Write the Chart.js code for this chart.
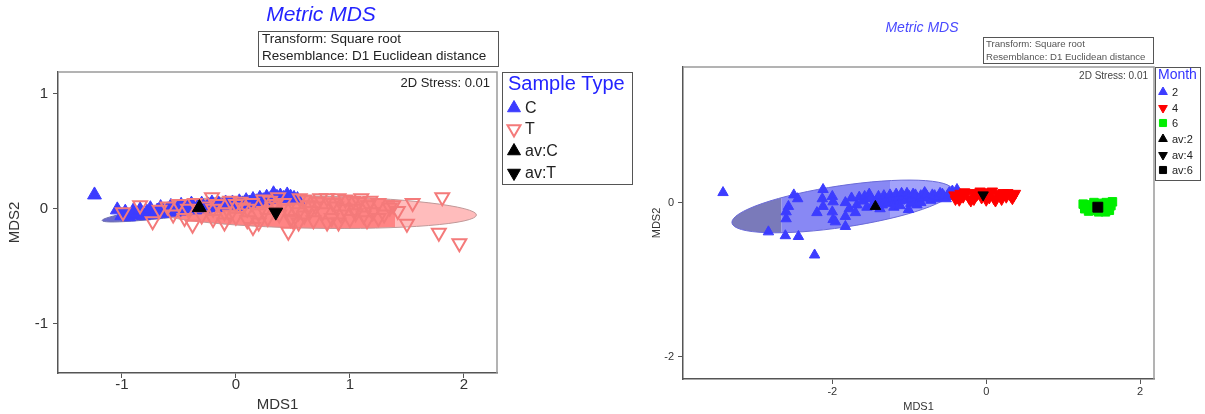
<!DOCTYPE html>
<html>
<head>
<meta charset="utf-8">
<script src="https://cdn.jsdelivr.net/npm/chart.js@4.4.1/dist/chart.umd.min.js"></script>
<style>
    body { margin: 0; background: #fff; width: 1205px; height: 414px; overflow: hidden; position: relative; }
    .panel { position: absolute; top: 0; height: 414px; }
</style>
</head>
<body>
<div class="panel" style="left:0;width:640px"><canvas id="sampleTypeChart"></canvas></div>
<div class="panel" style="left:640px;width:565px"><canvas id="monthChart"></canvas></div>
<script>
// ---------- left plot: Sample Type ----------
const sampleC = [
    [-1.24, 0.12], [-1.04, -0.01], [-1.0, -0.06], [-0.97, -0.03], [-0.94, -0.07], [-0.9, -0.02],
    [-0.87, -0.05], [-0.84, -0.01], [-0.81, -0.06], [-0.78, -0.03], [-0.75, 0.0], [-0.72, -0.05],
    [-0.69, -0.02], [-0.66, 0.01], [-0.63, -0.04], [-0.6, -0.01], [-0.57, 0.02], [-0.54, -0.03],
    [-0.51, 0.0], [-0.48, 0.03], [-0.45, -0.02], [-0.42, 0.01], [-0.39, 0.04], [-0.36, -0.01],
    [-0.33, 0.02], [-0.3, 0.04], [-0.27, 0.0], [-0.24, 0.03], [-0.21, 0.05], [-0.18, 0.01],
    [-0.15, 0.04], [-0.12, 0.02], [-0.09, 0.05], [-0.06, 0.03], [-0.03, 0.05], [0.0, 0.02],
    [0.03, 0.06], [0.06, 0.04], [0.09, 0.07], [0.12, 0.05], [0.15, 0.08], [0.18, 0.06],
    [0.21, 0.09], [0.24, 0.07], [0.27, 0.1], [0.3, 0.08], [0.33, 0.13], [0.36, 0.1],
    [0.39, 0.11], [0.42, 0.09], [0.45, 0.12], [0.48, 0.1], [0.51, 0.09], [0.54, 0.08]
];
const sampleT = [
    [-0.99, -0.03], [-0.84, 0.03], [-0.73, -0.11], [-0.67, -0.01], [-0.6, 0.02], [-0.55, -0.05],
    [-0.5, 0.04], [-0.45, -0.08], [-0.42, 0.0], [-0.38, -0.14], [-0.36, 0.05], [-0.3, -0.06],
    [-0.26, 0.02], [-0.21, 0.10], [-0.2, -0.09], [-0.2, 0.0], [-0.16, 0.04], [-0.1, -0.03],
    [-0.1, -0.12], [-0.05, 0.07], [-0.05, -0.05], [0.0, -0.07], [0.0, 0.04], [0.04, 0.06],
    [0.06, 0.01], [0.1, -0.1], [0.1, 0.0], [0.14, 0.05], [0.15, -0.16], [0.2, -0.04],
    [0.2, -0.12], [0.24, 0.08], [0.25, -0.02], [0.28, -0.08], [0.3, 0.07], [0.32, 0.02],
    [0.35, 0.04], [0.37, 0.10], [0.38, -0.05], [0.42, 0.05], [0.45, 0.0], [0.46, -0.2],
    [0.48, -0.09], [0.5, -0.1], [0.52, 0.01], [0.55, -0.12], [0.55, -0.03], [0.56, 0.09],
    [0.6, -0.06], [0.6, 0.08], [0.64, 0.03], [0.65, -0.02], [0.68, -0.1], [0.7, 0.02],
    [0.72, 0.06], [0.74, 0.09], [0.76, -0.03], [0.8, -0.12], [0.8, 0.09], [0.84, -0.08],
    [0.85, 0.05], [0.88, 0.02], [0.9, 0.09], [0.9, -0.12], [0.92, -0.05], [0.95, 0.0],
    [0.96, 0.08], [1.0, -0.09], [1.03, 0.07], [1.04, 0.0], [1.05, -0.04], [1.08, 0.06],
    [1.1, 0.09], [1.12, -0.06], [1.15, -0.1], [1.16, 0.03], [1.18, 0.07], [1.2, -0.03],
    [1.25, 0.05], [1.25, -0.08], [1.3, -0.05], [1.35, 0.01], [1.38, 0.03], [1.42, -0.02],
    [1.5, -0.13], [1.55, 0.05], [1.78, -0.21], [1.81, 0.10], [1.96, -0.30]
];
const avC = [[-0.32, 0.01]];
const avT = [[0.35, -0.03]];
const leftXTicks = [-1, 0, 1, 2];
const leftYTicks = [-1, 0, 1];
// ellipse = [centre x, centre y, semi-major, semi-minor, angle in degrees]
const ellipseC = [-0.31, 0.01, 0.87, 0.055, 7.5];
const ellipseT = [0.68, -0.03, 1.43, 0.14, -1];

// ---------- right plot: Month ----------
const month2 = [
    [-3.42, 0.13], [-2.5, 0.1], [-2.45, 0.05], [-2.12, 0.17], [-2.57, -0.05], [-2.6, -0.12],
    [-2.6, -0.21], [-2.83, -0.38], [-2.61, -0.43], [-2.44, -0.44], [-2.23, -0.68], [-2.13, 0.05],
    [-2.12, -0.05], [-2.2, -0.13], [-2.0, 0.08], [-1.99, 0.01], [-2.0, -0.12], [-1.99, -0.22],
    [-1.96, -0.25], [-1.83, 0.0], [-1.83, -0.18], [-1.83, -0.31], [-1.78, -0.08], [-1.75, 0.06],
    [-1.68, -0.03], [-1.7, -0.13], [-1.65, 0.07], [-1.6, 0.02], [-1.58, 0.08], [-1.55, -0.06],
    [-1.52, 0.11], [-1.5, 0.05], [-1.47, -0.02], [-1.45, 0.0], [-1.42, 0.03], [-1.4, 0.08],
    [-1.38, -0.08], [-1.35, -0.03], [-1.33, 0.09], [-1.3, 0.04], [-1.28, -0.01], [-1.25, 0.1],
    [-1.22, 0.05], [-1.2, 0.0], [-1.2, -0.06], [-1.17, 0.11], [-1.15, 0.06], [-1.12, 0.02],
    [-1.12, -0.04], [-1.1, 0.12], [-1.08, 0.07], [-1.05, 0.03], [-1.03, 0.12], [-1.01, -0.09],
    [-1.0, 0.08], [-0.98, -0.01], [-0.97, 0.05], [-0.95, 0.11], [-0.92, 0.1], [-0.9, 0.04],
    [-0.9, -0.03], [-0.87, 0.02], [-0.85, 0.09], [-0.85, 0.0], [-0.82, 0.06], [-0.8, 0.13],
    [-0.78, 0.1], [-0.75, 0.06], [-0.72, 0.03], [-0.7, 0.1], [-0.67, 0.09], [-0.65, 0.05],
    [-0.62, 0.07], [-0.6, 0.12], [-0.57, 0.11], [-0.55, 0.08], [-0.52, 0.05], [-0.5, 0.1],
    [-0.48, 0.13], [-0.44, 0.15], [-0.42, 0.08], [-0.38, 0.17]
];
const month4 = [
    [-0.42, 0.1], [-0.4, 0.04], [-0.38, 0.06], [-0.35, 0.03], [-0.34, 0.12], [-0.3, 0.07],
    [-0.3, 0.1], [-0.28, 0.14], [-0.26, 0.11], [-0.22, 0.05], [-0.2, 0.02], [-0.18, 0.13],
    [-0.16, 0.04], [-0.14, 0.08], [-0.12, 0.1], [-0.1, 0.12], [-0.08, 0.15], [-0.06, 0.06],
    [-0.02, 0.14], [0.0, 0.03], [0.02, 0.09], [0.04, 0.06], [0.06, 0.13], [0.08, 0.15],
    [0.1, 0.05], [0.12, 0.02], [0.14, 0.12], [0.16, 0.1], [0.18, 0.08], [0.2, 0.04],
    [0.22, 0.13], [0.26, 0.07], [0.28, 0.13], [0.3, 0.11], [0.32, 0.08], [0.34, 0.05],
    [0.36, 0.09], [0.38, 0.12]
];
const month6 = [
    [1.26, -0.02], [1.28, -0.08], [1.3, -0.05], [1.33, -0.11], [1.36, -0.03], [1.4, 0.0],
    [1.4, -0.07], [1.43, -0.1], [1.46, -0.12], [1.5, -0.01], [1.53, -0.08], [1.55, -0.12],
    [1.56, 0.0], [1.6, -0.1], [1.62, -0.04], [1.64, 0.01]
];
const av2 = [[-1.44, -0.05]];
const av4 = [[-0.04, 0.10]];
const av6 = [[1.45, -0.06]];
const rightXTicks = [-2, 0, 2];
const rightYTicks = [-2, 0];
const ellipse2 = [-1.87, -0.05, 1.45, 0.27, 8.5];

const FONT = '"Liberation Sans", Arial, sans-serif';
const toPoints = (rows) => rows.map(([x, y]) => ({x: x, y: y}));

/** Draws confidence ellipses (in data units) just before a given dataset */
const ellipsePlugin = {
    id: 'ellipses',
    beforeDatasetDraw(chart, args, opts) {
        (opts.items || []).forEach(item => {
            if (item.before !== args.index) return;
            const xs = chart.scales.x, ys = chart.scales.y, area = chart.chartArea;
            const [cx, cy, a, b, ang] = item.shape;
            const px = xs.getPixelForValue(cx), py = ys.getPixelForValue(cy);
            const rx = Math.abs(xs.getPixelForValue(cx + a) - px);
            const ry = Math.abs(ys.getPixelForValue(cy + b) - py);
            const ctx = chart.ctx;
            ctx.save();
            ctx.beginPath();
            ctx.rect(area.left, area.top, area.width, area.height);
            ctx.clip();
            ctx.beginPath();
            ctx.ellipse(px, py, rx, ry, -ang * Math.PI / 180, 0, Math.PI * 2);
            item.bands.forEach(band => {
                ctx.save();
                ctx.clip();
                const x0 = xs.getPixelForValue(band.from), x1 = xs.getPixelForValue(band.to);
                ctx.fillStyle = band.fill;
                ctx.fillRect(x0, area.top, x1 - x0, area.height);
                ctx.restore();
            });
            ctx.strokeStyle = item.stroke;
            ctx.lineWidth = 1;
            ctx.stroke();
            ctx.restore();
        });
    }
};

/** Frame, annotation boxes, free texts and the boxed legend */
const decorPlugin = {
    id: 'decor',
    afterDraw(chart, args, opts) {
        const ctx = chart.ctx, area = chart.chartArea;
        ctx.save();
        // light top / right edges of the plot box
        ctx.strokeStyle = '#9a9a9a';
        ctx.lineWidth = 1.5;
        ctx.beginPath();
        ctx.moveTo(area.left, area.top);
        ctx.lineTo(area.right, area.top);
        ctx.lineTo(area.right, area.bottom);
        ctx.stroke();

        ctx.strokeStyle = '#555';
        ctx.lineWidth = 1;
        opts.boxes.forEach(([x, y, w, h]) => ctx.strokeRect(x, y, w, h));

        ctx.textBaseline = 'middle';
        opts.texts.forEach(t => {
            ctx.font = t.font;
            ctx.fillStyle = t.color;
            ctx.textAlign = t.align;
            ctx.fillText(t.text, t.x, t.y);
        });

        const lg = opts.legend;
        ctx.textAlign = 'left';
        ctx.font = lg.titleFont;
        ctx.fillStyle = lg.titleColor;
        ctx.fillText(lg.title, lg.x, lg.y);
        ctx.font = lg.font;
        chart.data.datasets.forEach((ds, i) => {
            const y = lg.rows[i];
            ctx.fillStyle = ds.backgroundColor;
            ctx.strokeStyle = ds.borderColor;
            ctx.lineWidth = ds.borderWidth;
            Chart.helpers.drawPoint(ctx, {
                pointStyle: ds.pointStyle,
                rotation: ds.rotation || 0,
                radius: lg.radius,
                borderWidth: ds.borderWidth
            }, lg.markerX, y);
            ctx.fillStyle = '#222';
            ctx.fillText(ds.label, lg.textX, y + 1);
        });
        ctx.restore();
    }
};

const makeScale = (pos, min, max, ticks, size, fontSize, tickPad, title, titlePad) => ({
    type: 'linear',
    position: pos,
    min: min,
    max: max,
    afterBuildTicks: scale => { scale.ticks = ticks.map(v => ({value: v})); },
    afterFit: scale => {
        if (pos === 'left') scale.width = size; else scale.height = size;
    },
    grid: {drawOnChartArea: false, drawTicks: true, tickLength: 5, color: '#555', lineWidth: 1},
    border: {display: true, color: '#555', width: 1.5},
    ticks: {color: '#333', font: {family: FONT, size: fontSize}, padding: tickPad, maxRotation: 0},
    title: {display: true, text: title, color: '#333', font: {family: FONT, size: fontSize}, padding: titlePad}
});

const scatterDs = (label, rows, style, color, opts) => Object.assign({
    label: label,
    data: toPoints(rows),
    pointStyle: style,
    backgroundColor: color,
    borderColor: color,
    borderWidth: 1,
    rotation: 0
}, opts);

// ---------- left chart ----------
new Chart(document.getElementById('sampleTypeChart'), {
    type: 'scatter',
    data: {
        datasets: [
            scatterDs('C', sampleC, 'triangle', '#3c3cff', {pointRadius: 8, order: 4}),
            scatterDs('T', sampleT, 'triangle', 'rgba(0,0,0,0)', {
                borderColor: '#f47a7a', borderWidth: 2, pointRadius: 8, rotation: 180, pointRotation: 180, order: 3
            }),
            scatterDs('av:C', avC, 'triangle', '#000', {pointRadius: 8, order: 2}),
            scatterDs('av:T', avT, 'triangle', '#000', {pointRadius: 8, rotation: 180, pointRotation: 180, order: 1})
        ]
    },
    options: {
        responsive: true,
        maintainAspectRatio: false,
        animation: false,
        events: [],
        layout: {padding: {top: 72, right: 143, left: 0, bottom: 0}},
        scales: {
            x: makeScale('bottom', -1.56, 2.29, leftXTicks, 41, 15, -2, 'MDS1', {top: 0, bottom: 0}),
            y: makeScale('left', -1.43, 1.19, leftYTicks, 58, 15, 5, 'MDS2', {top: 6, bottom: 0})
        },
        plugins: {
            legend: {display: false},
            tooltip: {enabled: false},
            ellipses: {items: [
                {before: 0, shape: ellipseC, stroke: '#7070b0',
                 bands: [{from: -9, to: 9, fill: '#6a6acc'}]},
                {before: 0, shape: ellipseT, stroke: '#c09898',
                 bands: [{from: -9, to: 1.4, fill: '#ff8484'}, {from: 1.4, to: 9, fill: '#ffbcbc'}]}
            ]},
            decor: {
                boxes: [[258.5, 31.5, 240, 35], [502.5, 72.5, 130, 112]],
                texts: [
                    {text: 'Metric MDS', x: 321, y: 15, font: 'italic 21px ' + FONT, color: '#2323ff', align: 'center'},
                    {text: 'Transform: Square root', x: 262, y: 39, font: '13.5px ' + FONT, color: '#222', align: 'left'},
                    {text: 'Resemblance: D1 Euclidean distance', x: 262, y: 56, font: '13.5px ' + FONT, color: '#222', align: 'left'},
                    {text: '2D Stress: 0.01', x: 490, y: 83, font: '13px ' + FONT, color: '#222', align: 'right'}
                ],
                legend: {
                    title: 'Sample Type', titleFont: '20px ' + FONT, titleColor: '#2323ff', x: 508, y: 84,
                    font: '16px ' + FONT, markerX: 514, textX: 525, rows: [108, 129, 151, 173], radius: 7.5
                }
            }
        }
    },
    plugins: [ellipsePlugin, decorPlugin]
});

// ---------- right chart ----------
new Chart(document.getElementById('monthChart'), {
    type: 'scatter',
    data: {
        datasets: [
            scatterDs('2', month2, 'triangle', '#3c3cff', {pointRadius: 6, order: 6}),
            scatterDs('4', month4, 'triangle', '#ff0000', {pointRadius: 6, rotation: 180, pointRotation: 180, order: 5}),
            scatterDs('6', month6, 'rect', '#00ee00', {pointRadius: 6, order: 4}),
            scatterDs('av:2', av2, 'triangle', '#000', {pointRadius: 6, order: 3}),
            scatterDs('av:4', av4, 'triangle', '#000', {pointRadius: 6, rotation: 180, pointRotation: 180, order: 2}),
            scatterDs('av:6', av6, 'rect', '#000', {pointRadius: 7, order: 1})
        ]
    },
    options: {
        responsive: true,
        maintainAspectRatio: false,
        animation: false,
        events: [],
        layout: {padding: {top: 67, right: 51, left: 0, bottom: 0}},
        scales: {
            x: makeScale('bottom', -3.94, 2.18, rightXTicks, 35, 11, 1, 'MDS1', {top: 0, bottom: 0}),
            y: makeScale('left', -2.29, 1.76, rightYTicks, 43, 11, 4, 'MDS2', {top: 10, bottom: 0})
        },
        plugins: {
            legend: {display: false},
            tooltip: {enabled: false},
            ellipses: {items: [
                {before: 0, shape: ellipse2, stroke: '#6a6ad8',
                 bands: [
                     {from: -9, to: -2.66, fill: '#7a7aba'},
                     {from: -2.66, to: -1.25, fill: '#8888f4'},
                     {from: -1.25, to: 9, fill: '#a2a2fa'}
                 ]}
            ]},
            decor: {
                boxes: [[343.5, 37.5, 170, 26], [515.5, 67.5, 45, 113]],
                texts: [
                    {text: 'Metric MDS', x: 282, y: 28, font: 'italic 14px ' + FONT, color: '#4a4aff', align: 'center'},
                    {text: 'Transform: Square root', x: 346, y: 44, font: '9.6px ' + FONT, color: '#555', align: 'left'},
                    {text: 'Resemblance: D1 Euclidean distance', x: 346, y: 57, font: '9.6px ' + FONT, color: '#555', align: 'left'},
                    {text: '2D Stress: 0.01', x: 508, y: 76, font: '10px ' + FONT, color: '#444', align: 'right'}
                ],
                legend: {
                    title: 'Month', titleFont: '14px ' + FONT, titleColor: '#3333ff', x: 518, y: 75,
                    font: '11px ' + FONT, markerX: 523, textX: 532, rows: [92, 108, 123, 139, 155, 170], radius: 5
                }
            }
        }
    },
    plugins: [ellipsePlugin, decorPlugin]
});
</script>
</body>
</html>
